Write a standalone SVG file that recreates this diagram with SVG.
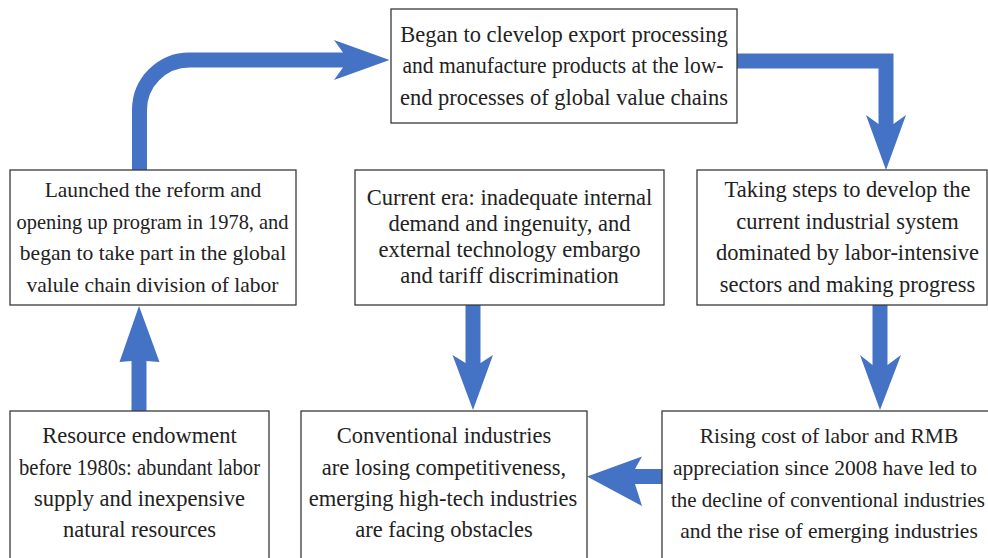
<svg xmlns="http://www.w3.org/2000/svg" width="988" height="558" viewBox="0 0 988 558">
<style>
.box{fill:#fff;stroke:#3a3a3a;stroke-width:1.3}
.shaft{fill:none;stroke:#4472C4;stroke-width:15;stroke-linecap:butt;stroke-linejoin:miter}
.head{fill:#4472C4}
</style>
<rect width="988" height="558" fill="#fff"/>
<g id="connectors">
<path class="shaft" d="M139.5,170 V110 A50,50 0 0 1 189.5,60 H344"/>
<polygon class="head" points="343,52.5 334,40 389.5,60 334,80 343,67.5"/>
<path class="shaft" d="M737,61 H886 V124"/>
<polygon class="head" points="878.5,124 866,115 886,170 906,115 893.5,124"/>
<path class="shaft" d="M139,411 V360"/>
<polygon class="head" points="131.5,361 119.5,362 139,306 159.5,362 146.5,361"/>
<path class="shaft" d="M473,305 V364"/>
<polygon class="head" points="465.5,363 452.5,355 473,410 493,355 480.5,363"/>
<path class="shaft" d="M880,305 V366"/>
<polygon class="head" points="872.5,365 860,355 880,410 901,355 887.5,365"/>
<path class="shaft" d="M662,476.5 H634"/>
<polygon class="head" points="635,469 642,456.5 587,476.5 642,506 635,484"/>
</g>
<g id="n1">
<rect class="box" x="391" y="9" width="346" height="114"/>
<text style="font-family:'Liberation Serif';font-size:22.5px;fill:#222;text-anchor:middle" x="564" y="41.5">Began to clevelop export processing</text>
<text style="font-family:'Liberation Serif';font-size:22.5px;fill:#222;text-anchor:middle" x="563" y="73" textLength="321" lengthAdjust="spacingAndGlyphs">and manufacture products at the low-</text>
<text style="font-family:'Liberation Serif';font-size:22.5px;fill:#222;text-anchor:middle" x="564" y="105">end processes of global value chains</text>
</g>
<g id="n2">
<rect class="box" x="10" y="170" width="286" height="135"/>
<text style="font-family:'Liberation Serif';font-size:21.5px;fill:#222;text-anchor:middle" x="153" y="197">Launched the reform and</text>
<text style="font-family:'Liberation Serif';font-size:21.5px;fill:#222;text-anchor:middle" x="152.5" y="228.5" textLength="272" lengthAdjust="spacingAndGlyphs">opening up program in 1978, and</text>
<text style="font-family:'Liberation Serif';font-size:21.5px;fill:#222;text-anchor:middle" x="153" y="260">began to take part in the global</text>
<text style="font-family:'Liberation Serif';font-size:21.5px;fill:#222;text-anchor:middle" x="152.5" y="291.5">valule chain division of labor</text>
</g>
<g id="n3">
<rect class="box" x="355" y="170" width="309" height="135"/>
<text style="font-family:'Liberation Serif';font-size:22.5px;fill:#222;text-anchor:middle" x="509.5" y="205">Current era: inadequate internal</text>
<text style="font-family:'Liberation Serif';font-size:22.5px;fill:#222;text-anchor:middle" x="509.5" y="231">demand and ingenuity, and</text>
<text style="font-family:'Liberation Serif';font-size:22.5px;fill:#222;text-anchor:middle" x="509.5" y="257">external technology embargo</text>
<text style="font-family:'Liberation Serif';font-size:22.5px;fill:#222;text-anchor:middle" x="509.5" y="283">and tariff discrimination</text>
</g>
<g id="n4">
<rect class="box" x="697" y="170" width="290" height="135"/>
<text style="font-family:'Liberation Serif';font-size:22.5px;fill:#222;text-anchor:middle" x="847.5" y="197">Taking steps to develop the</text>
<text style="font-family:'Liberation Serif';font-size:22.5px;fill:#222;text-anchor:middle" x="847.5" y="228.5">current industrial system</text>
<text style="font-family:'Liberation Serif';font-size:22.5px;fill:#222;text-anchor:middle" x="847.5" y="260">dominated by labor-intensive</text>
<text style="font-family:'Liberation Serif';font-size:22.5px;fill:#222;text-anchor:middle" x="847.5" y="291.5">sectors and making progress</text>
</g>
<g id="n5">
<rect class="box" x="10" y="411" width="259" height="160"/>
<text style="font-family:'Liberation Serif';font-size:22.5px;fill:#222;text-anchor:middle" x="139.5" y="443">Resource endowment</text>
<text style="font-family:'Liberation Serif';font-size:22.5px;fill:#222;text-anchor:middle" x="139.5" y="475" textLength="241" lengthAdjust="spacingAndGlyphs">before 1980s: abundant labor</text>
<text style="font-family:'Liberation Serif';font-size:22.5px;fill:#222;text-anchor:middle" x="139.5" y="506">supply and inexpensive</text>
<text style="font-family:'Liberation Serif';font-size:22.5px;fill:#222;text-anchor:middle" x="139.5" y="537">natural resources</text>
</g>
<g id="n6">
<rect class="box" x="301" y="411" width="286" height="160"/>
<text style="font-family:'Liberation Serif';font-size:22.5px;fill:#222;text-anchor:middle" x="444" y="443">Conventional industries</text>
<text style="font-family:'Liberation Serif';font-size:22.5px;fill:#222;text-anchor:middle" x="444" y="475">are losing competitiveness,</text>
<text style="font-family:'Liberation Serif';font-size:22.5px;fill:#222;text-anchor:middle" x="443" y="506">emerging high-tech industries</text>
<text style="font-family:'Liberation Serif';font-size:22.5px;fill:#222;text-anchor:middle" x="444" y="537">are facing obstacles</text>
</g>
<g id="n7">
<rect class="box" x="662" y="411" width="340" height="160"/>
<text style="font-family:'Liberation Serif';font-size:21.5px;fill:#222;text-anchor:middle" x="829" y="443">Rising cost of labor and RMB</text>
<text style="font-family:'Liberation Serif';font-size:21.5px;fill:#222;text-anchor:middle" x="825" y="475">appreciation since 2008 have led to</text>
<text style="font-family:'Liberation Serif';font-size:21.5px;fill:#222;text-anchor:middle" x="828" y="506.5" textLength="314" lengthAdjust="spacingAndGlyphs">the decline of conventional industries</text>
<text style="font-family:'Liberation Serif';font-size:21.5px;fill:#222;text-anchor:middle" x="829" y="538">and the rise of emerging industries</text>
</g>
</svg>
